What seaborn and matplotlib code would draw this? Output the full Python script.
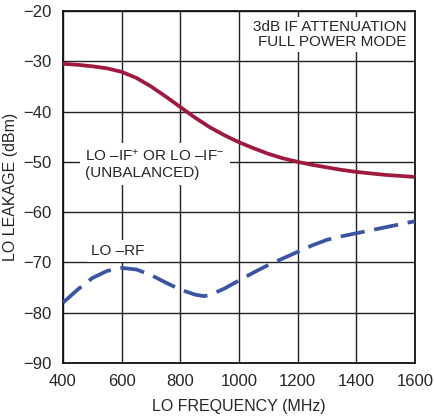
import matplotlib
matplotlib.use("Agg")
import matplotlib.pyplot as plt
import seaborn as sns
import pandas as pd

# LO - IF leakage (unbalanced)
if_freq = [400, 450, 500, 550, 600, 650, 700, 750, 800, 850, 900, 950, 1000, 1050, 1100,
           1150, 1200, 1250, 1300, 1350, 1400, 1450, 1500, 1550, 1600]
if_leak = [-30.5, -30.7, -31.0, -31.4, -32.1, -33.3, -35.0, -37.0, -39.1, -41.2, -43.1, -44.7,
           -46.1, -47.3, -48.4, -49.3, -50.0, -50.6, -51.1, -51.6, -52.0, -52.3, -52.6, -52.8, -53.0]

# LO - RF leakage
rf_freq = [400, 450, 500, 550, 600, 650, 700, 750, 800, 850, 880, 900, 950, 1000, 1050, 1100,
           1150, 1200, 1250, 1300, 1350, 1400, 1450, 1500, 1550, 1600]
rf_leak = [-78.0, -75.4, -73.1, -71.7, -71.1, -71.4, -72.5, -74.0, -75.4, -76.4, -76.7, -76.5,
           -75.2, -73.6, -72.0, -70.5, -69.2, -67.9, -66.6, -65.5, -64.8, -64.2, -63.6, -63.0, -62.4, -61.8]

x_ticks = [400, 600, 800, 1000, 1200, 1400, 1600]
y_ticks = [-90, -80, -70, -60, -50, -40, -30, -20]

sns.set_style("white")
plt.rcParams['font.family'] = ['Liberation Sans', 'DejaVu Sans']
plt.rcParams['mathtext.fontset'] = 'custom'
plt.rcParams['mathtext.rm'] = 'Liberation Sans'
plt.rcParams['mathtext.it'] = 'Liberation Sans'
plt.rcParams['axes.unicode_minus'] = True

fig = plt.figure(figsize=(4.34, 4.18), dpi=100)
ax = fig.add_axes([63 / 434, 1 - 363 / 418, (415 - 63) / 434, (363 - 11) / 418])

df_if = pd.DataFrame({"freq": if_freq, "leak": if_leak})
df_rf = pd.DataFrame({"freq": rf_freq, "leak": rf_leak})

sns.lineplot(data=df_if, x="freq", y="leak", ax=ax, color="#9e1b3f", linewidth=2.7, zorder=3)
sns.lineplot(data=df_rf, x="freq", y="leak", ax=ax, color="#3b55a5", linewidth=2.7,
             dashes=False, zorder=3)
ax.lines[-1].set_dashes([6.5, 2.6])

ax.set_xlim(400, 1600)
ax.set_ylim(-90, -20)
ax.set_xticks(x_ticks)
ax.set_yticks(y_ticks)
ax.set_xticklabels([str(v) for v in x_ticks], fontsize=12)
ax.set_yticklabels([("\u2212" + str(-v)) for v in y_ticks], fontsize=12)
ax.tick_params(axis='x', length=0, pad=8)
ax.tick_params(axis='y', length=0, pad=8)
ax.grid(True, color="#222222", linewidth=1.0)
ax.set_axisbelow(True)
for s in ax.spines.values():
    s.set_color("#111111")
    s.set_linewidth(1.3)

ax.set_xlabel("LO FREQUENCY (MHz)", fontsize=11.5, labelpad=7)
ax.set_ylabel("LO LEAKAGE (dBm)", fontsize=11.5, labelpad=4)

ax.text(0.975, 0.975, "3dB IF ATTENUATION\nFULL POWER MODE", transform=ax.transAxes,
        ha="right", va="top", fontsize=11, linespacing=1.15,
        bbox=dict(facecolor="white", edgecolor="none", pad=2))
ax.text(475, -50.4, "LO \u2013IF$^{+}$ OR LO \u2013IF$^{\u2212}$\n(UNBALANCED)",
        ha="left", va="center", fontsize=11, linespacing=1.15, zorder=2,
        bbox=dict(facecolor="white", edgecolor="none", pad=4))
ax.text(497, -67.8, "LO \u2013RF", ha="left", va="center", fontsize=11, zorder=2,
        bbox=dict(facecolor="white", edgecolor="none", pad=3))

fig.savefig("out.png", dpi=100)
